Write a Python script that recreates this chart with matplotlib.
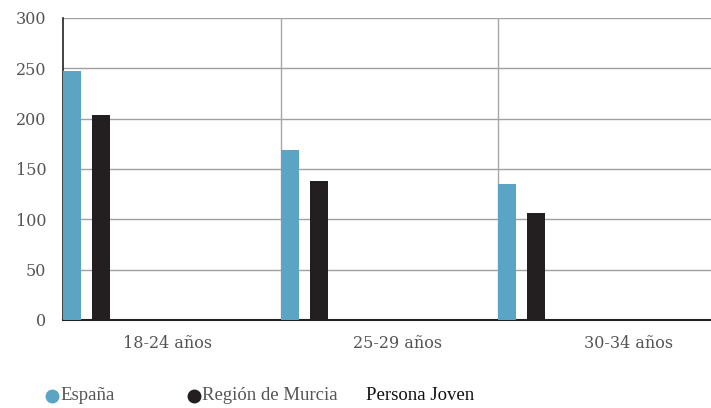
import numpy as np
import matplotlib.pyplot as plt
from matplotlib.lines import Line2D

categories = ['18-24 años', '25-29 años', '30-34 años']
espana = [247, 169, 135]
murcia = [204, 138, 106]
persona_joven = [0, 0, 0]

c_esp = '#5ba4c4'
c_mur = '#231f20'

fig = plt.figure(figsize=(7.11, 4.08), dpi=100)
W, H = 711, 408
left, right, bottom, top = 63, 715.5, 320, 18
ax = fig.add_axes([left / W, 1 - bottom / H, (right - left) / W, (bottom - top) / H])

x = np.arange(len(categories))
bw = 0.083
ax.bar(x, espana, width=bw, align='edge', color=c_esp, zorder=3)
ax.bar(x + 0.135, murcia, width=bw, align='edge', color=c_mur, zorder=3)
ax.bar(x + 0.27, persona_joven, width=bw, align='edge', color=c_mur, zorder=3)

ax.set_xlim(0, 3)
ax.set_ylim(0, 300)
ax.set_yticks(range(0, 301, 50))
# category labels sit slightly off the group centres in the original
ax.set_xticks(x + np.array([0.483, 0.54, 0.60]))
ax.set_xticklabels(categories)
for v in range(50, 301, 50):
    ax.axhline(v, color='#a0a0a0', lw=1, zorder=1)
for v in [1, 2]:
    ax.axvline(v, color='#a8a8a8', lw=1, zorder=1)

for s in ['top', 'right']:
    ax.spines[s].set_visible(False)
ax.spines['left'].set_color('#222222')
ax.spines['bottom'].set_color('#222222')
ax.spines['left'].set_linewidth(1.2)
ax.spines['bottom'].set_linewidth(1.5)
ax.tick_params(length=0, labelsize=11.5, colors='#555555', labelfontfamily='DejaVu Serif')
ax.tick_params(axis='y', pad=12)
ax.tick_params(axis='x', pad=11)

# legend
fy = 1 - 396 / H
for px, col in [(51.5, c_esp), (193.5, c_mur)]:
    fig.add_artist(Line2D([px / W], [fy], marker='o', ms=9, color=col, transform=fig.transFigure))
fs = dict(fontsize=13.5, family='Liberation Serif', va='center')
fig.text(60 / W, fy, 'España', color='#555555', **fs)
fig.text(202 / W, fy, 'Región de Murcia', color='#555555', **fs)
fig.text(366 / W, fy, 'Persona Joven', color='#111111', **fs)

plt.savefig('out.png', dpi=100)
